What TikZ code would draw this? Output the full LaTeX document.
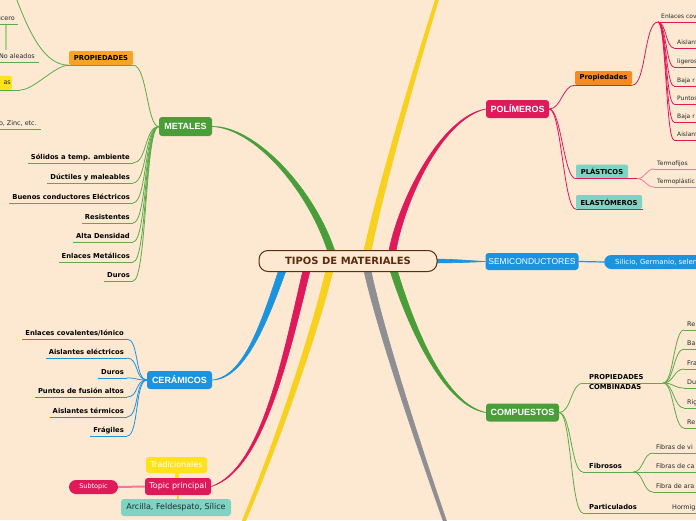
\documentclass[tikz,border=0pt]{standalone}
\usepackage{fontspec}
\setmainfont{DejaVu Sans}
\newfontfamily\headfont{Liberation Sans}
\usetikzlibrary{positioning, calc}
\definecolor{Paper}{HTML}{FDE8D2}
\definecolor{Root}{HTML}{5A2D0C}
\definecolor{Green}{HTML}{4A9E3A}
\definecolor{GreenLine}{HTML}{5DAA48}
\definecolor{GreenPale}{HTML}{A9D18E}
\definecolor{Blue}{HTML}{1B93DF}
\definecolor{Pink}{HTML}{E0195B}
\definecolor{PinkPale}{HTML}{F0789E}
\definecolor{Orange}{HTML}{F7A325}
\definecolor{DeepOrange}{HTML}{F58B22}
\definecolor{Teal}{HTML}{7ED3C3}
\definecolor{Sun}{HTML}{FFE21A}
\definecolor{SunLine}{HTML}{F7D11D}
\definecolor{Slate}{HTML}{8E8E93}
\definecolor{Ink}{HTML}{1E2B2B}
\pgfdeclarelayer{paper}
\pgfdeclarelayer{links}
\pgfsetlayers{paper,links,main}
\tikzset{
    rootnode/.style={rectangle, rounded corners=9pt, draw=Root, line width=1pt, fill=Paper, text=Root, inner sep=0pt, minimum width=178, minimum height=21, font=\bfseries\fontsize{10}{12}\selectfont},
    topic/.style={rectangle, rounded corners=3pt, text=white, inner sep=0pt, font=\headfont\bfseries\fontsize{9}{11}\selectfont},
    softtopic/.style={rectangle, rounded corners=3pt, text=white, inner sep=0pt, font=\fontsize{8}{10}\selectfont},
    tagbox/.style={rectangle, rounded corners=2pt, text=black, inner sep=0pt, minimum height=14, font=\bfseries\fontsize{6.8}{8}\selectfont},
    leafb/.style={inner xsep=3pt, inner ysep=1.5pt, text depth=1.5pt, text=black, font=\bfseries\fontsize{6.8}{8}\selectfont},
    leafr/.style={inner xsep=3pt, inner ysep=1.5pt, text depth=1.5pt, text=Ink, font=\fontsize{6.4}{8}\selectfont},
    greenline/.style={draw=GreenLine, line width=.8pt},
    blueline/.style={draw=Blue, line width=.8pt},
    pinkline/.style={draw=Pink, line width=.8pt},
}
\begin{document}
\begin{tikzpicture}[x=1pt, y=-1pt]
\useasboundingbox (0,0) rectangle (696,520);
\begin{pgfonlayer}{paper}
\fill[Paper] (0,0) rectangle (696,520);
\end{pgfonlayer}

% central topic
\node[rootnode] (root) at (348,261) {TIPOS DE MATERIALES};

% main topics
\node[topic, fill=Green, minimum width=53, minimum height=19] (metales) at (185.5,126.5) {METALES};
\node[topic, fill=Blue, minimum width=65, minimum height=18] (ceramicos) at (179.5,380) {CERÁMICOS};
\node[topic, fill=Pink, minimum width=63, minimum height=18] (polimeros) at (517.5,109) {POLÍMEROS};
\node[topic, fill=Green, minimum width=73, minimum height=18] (compuestos) at (522.5,412.5) {COMPUESTOS};
\node[topic, fill=Blue, font=\headfont\fontsize{8.5}{10}\selectfont, minimum width=93, minimum height=17] (semicond) at (532,261.5) {SEMICONDUCTORES};
\node[softtopic, fill=Pink, minimum width=66, minimum height=17] (principal) at (178,486.5) {Topic principal};
\node[softtopic, fill=Sun, minimum width=61, minimum height=16] (tradic) at (176.5,465) {Tradicionales};
\node[softtopic, fill=Teal, text=Ink, minimum width=110, minimum height=17] (arcilla) at (176,507.5) {Arcilla, Feldespato, Sílice};
\node[softtopic, fill=Pink, rounded corners=7pt, font=\fontsize{6.5}{8}\selectfont, minimum width=49, minimum height=14] (subtopic) at (93.5,487) {Subtopic};

% small boxes
\node[tagbox, fill=Orange, minimum width=64] (propmet) at (101,58) {PROPIEDADES};
\node[tagbox, fill=DeepOrange, minimum width=57] (proppol) at (603.5,78) {Propiedades};
\node[tagbox, fill=Teal, minimum width=52] (plasticos) at (602,171.5) {PLÁSTICOS};
\node[tagbox, fill=Teal, minimum width=66] (elastom) at (609,202) {ELASTÓMEROS};
\node[tagbox, fill=Blue, text=white, rounded corners=7pt, anchor=west, inner xsep=11pt, font=\fontsize{7}{8}\selectfont] (silicio) at (604,262) {Silicio, Germanio, selen};
\node[tagbox, fill=Sun, text=Ink, anchor=south east, text width=30, align=right, inner xsep=1pt, font=\fontsize{6.4}{8}\selectfont] (asnode) at (12,90) {as};

% thick branches
\begin{pgfonlayer}{links}
\coordinate (yup) at (440,-10);
\coordinate (ydown) at (240,530);
\coordinate (grayend) at (448,530);
\filldraw[Green, line width=.6pt] ($(root.north)+(-12.7,2.5)$) .. controls (314.9,189.1) and (255,125.5) .. (metales.east) .. controls (255,128.5) and (309.1,190.9) .. ($(root.north)+(-19.3,4.5)$) -- cycle;
\filldraw[SunLine, line width=.6pt] ($(root.north)+(22.4,4.5)$) .. controls (382.9,190.9) and (416.9,70.6) .. ($(yup)+(1.4,0.4)$) -- ($(yup)+(-1.4,-0.4)$) .. controls (413.1,69.4) and (377.1,189.1) .. ($(root.north)+(15.6,2.5)$) -- cycle;
\filldraw[Pink, line width=.6pt] ($(root.north)+(47.45,4.1)$) .. controls (402.97,205.48) and (440.3,119.5) .. (polimeros.west) .. controls (439.7,116.5) and (397.03,204.52) .. ($(root.north)+(40.55,2.9)$) -- cycle;
\filldraw[Blue, line width=.6pt] ($(root.east)+(-4,2)$) .. controls (455,262.8) and (470,262.3) .. (semicond.west) .. controls (470,260.7) and (455,259.2) .. ($(root.east)+(-4,-2)$) -- cycle;
\filldraw[Blue, line width=.6pt] ($(root.south)+(-61.7,-2.35)$) .. controls (267.8,321) and (245,379.5) .. (ceramicos.east) .. controls (245,376.5) and (262.2,319) .. ($(root.south)+(-68.3,-4.65)$) -- cycle;
\filldraw[Pink, line width=.6pt] ($(root.south)+(-37.6,-2.7)$) .. controls (287.9,360.7) and (262.46,471.43) .. (principal.east) .. controls (261.54,468.57) and (282.1,359.3) .. ($(root.south)+(-44.4,-4.3)$) -- cycle;
\filldraw[SunLine, line width=.6pt] ($(root.south)+(-14.6,-2.66)$) .. controls (312.9,350.7) and (271.9,460.5) .. ($(ydown)+(1.45,0.35)$) -- ($(ydown)+(-1.45,-0.35)$) .. controls (268.1,459.5) and (307.1,349.3) .. ($(root.south)+(-21.4,-4.34)$) -- cycle;
\filldraw[Slate, line width=.6pt] ($(root.south)+(22.4,-4.2)$) .. controls (382.9,329.4) and (421.9,449.6) .. ($(grayend)+(1.5,-0.3)$) -- ($(grayend)+(-1.5,0.3)$) .. controls (418.1,450.4) and (377.1,330.6) .. ($(root.south)+(15.6,-2.8)$) -- cycle;
\filldraw[Green, line width=.6pt] ($(root.south)+(48.35,-4.5)$) .. controls (414.9,329.1) and (445.27,403.53) .. (compuestos.west) .. controls (444.73,406.47) and (409.1,330.9) .. ($(root.south)+(41.65,-2.5)$) -- cycle;
\end{pgfonlayer}

% stubs round the topic
\draw[Sun, line width=4pt] (tradic.south) -- (tradic.south |- principal.north);
\draw[SunLine, line width=1.5pt] (principal.south) -- (principal.south |- arcilla.north);
\draw[PinkPale, line width=2pt] (subtopic.east) -- (principal.west);

% metales
\draw[greenline] (propmet.south west) -- (propmet.south east);
\draw[greenline] (metales.west) .. controls +(-12,0) and +(14,0) .. (propmet.south east);
\foreach \n/\lbl/\y in {ms1/Sólidos a temp. ambiente/163, ms2/Dúctiles y maleables/183, ms3/Buenos conductores Eléctricos/203, ms4/Resistentes/223, ms5/Alta Densidad/242, ms6/Enlaces Metálicos/262, ms7/Duros/281}{
    \node[leafb, anchor=south east] (\n) at (133,\y) {\lbl};
    \draw[greenline] (\n.south west) -- (\n.south east);
    \draw[greenline] (metales.west) .. controls +(-14,0) and +(14,0) .. (\n.south east);
}

% propiedades (metales), cut by the edge
\coordinate (offup) at (15,-5);
\coordinate (relA) at (6,25);
\coordinate (relB) at (6,50);
\node[leafr, anchor=south east] (ucero) at (18,24) {ucero};
\node[leafr, anchor=south east, inner xsep=4pt] (noal) at (39,62) {No aleados};
\node[leafr, anchor=south east, inner xsep=4pt] (zinc) at (41,129) {o, Zinc, etc.};
\draw[greenline] (ucero.south west) -- (ucero.south east);
\draw[greenline] (noal.south west) -- (noal.south east);
\draw[greenline] (zinc.south west) -- (zinc.south east);
\draw[GreenPale, line width=1.5pt] (relA) -- (relB);
\draw[greenline] (asnode.south west) -- ([xshift=8]asnode.south east) coordinate (asend);
\draw[greenline] (propmet.south west) .. controls +(-14,0) and +(14,0) .. (asend);
\draw[greenline] (propmet.south west) .. controls +(-24,0) and (30,35) .. (offup);

% ceramicos
\foreach \n/\lbl/\y in {cs1/{Enlaces covalentes/Iónico}/339, cs2/Aislantes eléctricos/358, cs3/Duros/378, cs4/Puntos de fusión altos/397, cs5/Aislantes térmicos/417, cs6/Frágiles/436}{
    \node[leafb, anchor=south east] (\n) at (127,\y) {\lbl};
    \draw[blueline] (\n.south west) -- (\n.south east);
    \draw[blueline] (ceramicos.west) .. controls +(-12,0) and +(12,0) .. (\n.south east);
}

% polimeros
\draw[pinkline] (proppol.south west) -- (proppol.south east);
\draw[pinkline] (plasticos.south west) -- ([xshift=9]plasticos.south east) coordinate (pj);
\draw[pinkline] (elastom.south west) -- ([xshift=1]elastom.south east);
\foreach \n in {proppol, plasticos, elastom}
    \draw[pinkline] (polimeros.east) .. controls +(12,0) and +(-12,0) .. (\n.south west);
\node[leafr, anchor=south west, font=\fontsize{6}{8}\selectfont] (enl) at (658,22) {Enlaces cov};
\draw[pinkline] (enl.south west) -- ++(60,0);
\draw[pinkline] (proppol.south east) .. controls +(14,0) and +(-14,0) .. (enl.south west);
\foreach \n/\lbl/\y in {pa1/Aislant/48, pa2/ligeros/67, pa3/Baja r/86, pa4/Puntos/104, pa5/Baja r/122, pa6/Aislant/140}{
    \node[leafr, anchor=south west, font=\fontsize{6}{8}\selectfont] (\n) at (674,\y) {\lbl};
    \draw[pinkline] (\n.south west) -- ++(40,0);
    \draw[pinkline] (enl.south west) .. controls +(8,0) and +(-8,0) .. (\n.south west);
}
\foreach \n/\lbl/\y in {tf1/Termofijos/169, tf2/Termoplástic/187}{
    \node[leafr, anchor=south west, font=\fontsize{6}{8}\selectfont] (\n) at (654,\y) {\lbl};
    \draw[PinkPale, line width=.8pt] (\n.south west) -- ++(60,0);
    \draw[PinkPale, line width=.8pt] (pj) .. controls +(8,0) and +(-8,0) .. (\n.south west);
}

% semiconductores
\draw[Blue, line width=1.2pt] (semicond.east) -- (silicio.west);

% compuestos
\node[leafb, anchor=south west, inner xsep=6pt, text width=68, align=left, font=\bfseries\fontsize{6.8}{9.5}\selectfont] (pc) at (583,383) {PROPIEDADES\\COMBINADAS};
\node[leafb, anchor=south west, inner xsep=6pt, text width=38, align=left] (fib) at (583,472) {Fibrosos};
\node[leafb, anchor=south west, inner xsep=6pt] (part) at (583,513) {Particulados};
\draw[greenline] (pc.south west) -- (pc.south east);
\draw[greenline] (fib.south west) -- (fib.south east) coordinate (fj);
\draw[greenline] (part.south west) -- ++(120,0);
\foreach \n in {pc, fib, part}
    \draw[greenline] (compuestos.east) .. controls +(12,0) and +(-12,0) .. (\n.south west);
\node[leafr, anchor=south west] (hormig) at (669,513) {Hormig};
\foreach \n/\lbl/\y in {pc1/Re/330, pc2/Ba/349, pc3/Fra/369, pc4/Du/388, pc5/Rig/408, pc6/Re/428}{
    \node[leafr, anchor=south west] (\n) at (684,\y) {\lbl};
    \draw[greenline] (\n.south west) -- ++(40,0);
    \draw[greenline] (pc.south east) .. controls +(10,0) and +(-10,0) .. (\n.south west);
}
\foreach \n/\lbl/\y in {fb1/Fibras de vi/453, fb2/Fibras de ca/472, fb3/Fibra de ara/492}{
    \node[leafr, anchor=south west] (\n) at (653,\y) {\lbl};
    \draw[greenline] (\n.south west) -- ++(60,0);
    \draw[greenline] (fj) .. controls +(10,0) and +(-10,0) .. (\n.south west);
}
\end{tikzpicture}
\end{document}
